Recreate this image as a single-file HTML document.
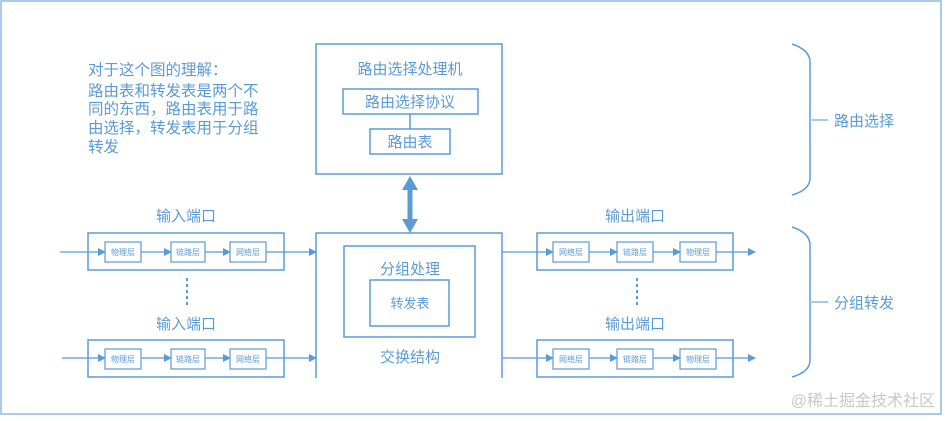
<!DOCTYPE html>
<html><head><meta charset="utf-8"><style>
body{margin:0;background:#fff}
svg text{font-family:"Liberation Sans","Noto Sans CJK SC",sans-serif;fill:#5b9bd5}
</style></head><body>
<svg width="945" height="416" viewBox="0 0 945 416" xmlns="http://www.w3.org/2000/svg">
<defs><marker id="a" markerWidth="8" markerHeight="8" refX="7" refY="4" orient="auto" markerUnits="userSpaceOnUse"><path d="M0,0 L8,4 L0,8Z" fill="#5b9bd5"/></marker></defs>
<rect x="1" y="1" width="940" height="413" fill="none" stroke="#8fb8e0" stroke-width="1.5"/>
<g fill="none" stroke="#5b9bd5" stroke-width="1.5">
<text x="88" y="75" font-size="15.5" stroke="none">对于这个图的理解：</text>
<text x="88" y="96" font-size="15.5" stroke="none">路由表和转发表是两个不</text>
<text x="88" y="114" font-size="15.5" stroke="none">同的东西，路由表用于路</text>
<text x="88" y="133" font-size="15.5" stroke="none">由选择，转发表用于分组</text>
<text x="88" y="152" font-size="15.5" stroke="none">转发</text>
<rect x="316" y="44" width="186" height="130"/>
<rect x="343" y="89" width="135" height="25"/>
<line x1="410" y1="114" x2="410" y2="129"/>
<rect x="370" y="129" width="80" height="25"/>
<rect x="316" y="233" width="186" height="150"/>
<rect x="344" y="246" width="131" height="91"/>
<rect x="370" y="280" width="79" height="46"/>
<rect x="88" y="233" width="196" height="37"/>
<rect x="88" y="340" width="196" height="37"/>
<rect x="537" y="233" width="196" height="37"/>
<rect x="537" y="340" width="196" height="37"/>
<g stroke-width="1.2">
<rect x="105" y="242" width="36" height="20"/><rect x="171" y="242" width="34" height="20"/><rect x="230" y="242" width="36" height="20"/>
<rect x="105" y="349" width="36" height="20"/><rect x="171" y="349" width="34" height="20"/><rect x="230" y="349" width="36" height="20"/>
<rect x="553" y="242" width="36" height="20"/><rect x="617" y="242" width="36" height="20"/><rect x="680" y="242" width="36" height="20"/>
<rect x="553" y="349" width="36" height="20"/><rect x="617" y="349" width="36" height="20"/><rect x="680" y="349" width="36" height="20"/>
<g marker-end="url(#a)">
<line x1="60" y1="252" x2="105" y2="252"/><line x1="141" y1="252" x2="171" y2="252"/><line x1="205" y1="252" x2="230" y2="252"/><line x1="266" y1="252" x2="316" y2="252"/>
<line x1="62" y1="358" x2="105" y2="358"/><line x1="141" y1="358" x2="171" y2="358"/><line x1="205" y1="358" x2="230" y2="358"/><line x1="266" y1="358" x2="316" y2="358"/>
<line x1="502" y1="252" x2="553" y2="252"/><line x1="589" y1="252" x2="617" y2="252"/><line x1="653" y1="252" x2="680" y2="252"/><line x1="716" y1="252" x2="755" y2="252"/>
<line x1="502" y1="358" x2="553" y2="358"/><line x1="589" y1="358" x2="617" y2="358"/><line x1="653" y1="358" x2="680" y2="358"/><line x1="716" y1="358" x2="755" y2="358"/>
</g></g>
<line x1="410" y1="188" x2="410" y2="220" stroke-width="5"/>
<path d="M402,190 L410,176 L418,190Z M402,219 L410,233 L418,219Z" fill="#5b9bd5" stroke="none"/>
<line x1="187" y1="278" x2="187" y2="308" stroke-dasharray="3,3" stroke-width="2"/>
<line x1="637" y1="278" x2="637" y2="308" stroke-dasharray="3,3" stroke-width="2"/>
<path d="M792,44 Q810,50 810,62 L810,178 Q810,190 792,195"/>
<line x1="810" y1="120" x2="828" y2="120" stroke="#a9c9ea" stroke-width="2"/>
<path d="M792,227 Q810,233 810,245 L810,360 Q810,372 792,377"/>
<line x1="810" y1="302" x2="828" y2="302" stroke="#a9c9ea" stroke-width="2"/>
</g>
<rect x="2" y="378" width="938" height="35" fill="#fff"/>
<g font-size="15" text-anchor="middle">
<text x="410" y="74">路由选择处理机</text>
<text x="410" y="107">路由选择协议</text>
<text x="410" y="147">路由表</text>
<text x="410" y="274">分组处理</text>
<text x="410" y="308" font-size="13">转发表</text>
<text x="410" y="362">交换结构</text>
<text x="186" y="221">输入端口</text>
<text x="186" y="329">输入端口</text>
<text x="635" y="221">输出端口</text>
<text x="635" y="329">输出端口</text>
<text x="864" y="126">路由选择</text>
<text x="864" y="308">分组转发</text>
</g>
<g font-size="8" text-anchor="middle">
<text x="123" y="255">物理层</text><text x="188" y="255">链路层</text><text x="248" y="255">网络层</text>
<text x="123" y="362">物理层</text><text x="188" y="362">链路层</text><text x="248" y="362">网络层</text>
<text x="571" y="255">网络层</text><text x="635" y="255">链路层</text><text x="698" y="255">物理层</text>
<text x="571" y="362">网络层</text><text x="635" y="362">链路层</text><text x="698" y="362">物理层</text>
</g>
<text x="935" y="406" font-size="16" text-anchor="end" style="fill:#c8c8c8">@稀土掘金技术社区</text>
</svg>
</body></html>
